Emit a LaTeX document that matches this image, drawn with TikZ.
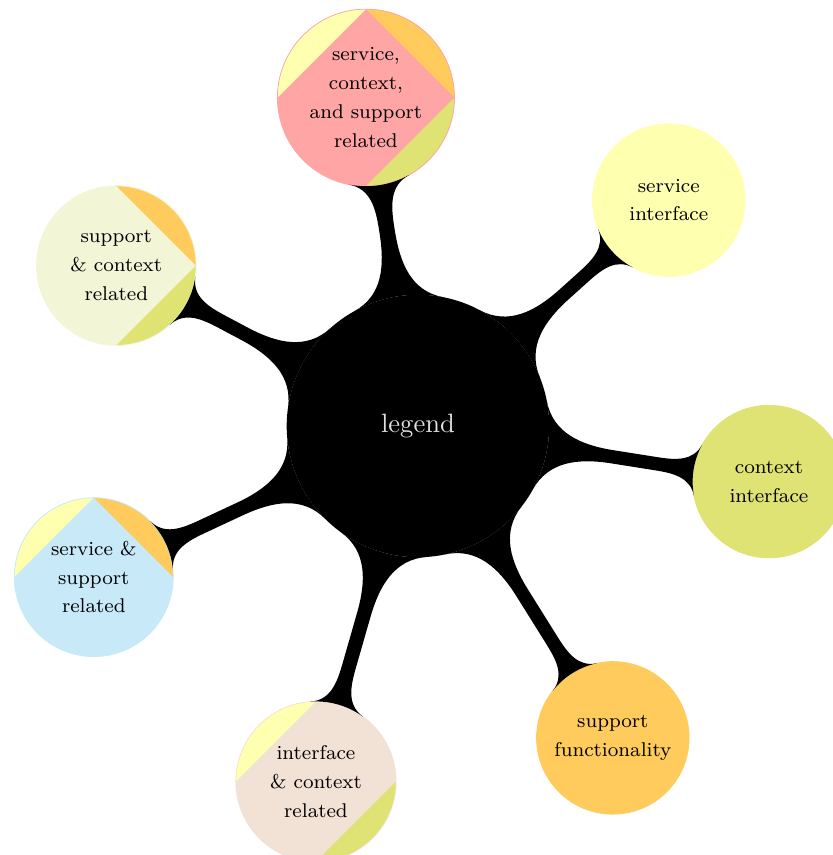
\documentclass[tikz,border=0pt]{standalone}
\usetikzlibrary{mindmap}
\definecolor{cserv}{RGB}{255,255,176}
\definecolor{cctx}{RGB}{222,227,115}
\definecolor{csupp}{RGB}{254,203,92}
\definecolor{cscs}{RGB}{255,165,165}
\definecolor{csc}{RGB}{242,245,214}
\definecolor{css}{RGB}{199,233,248}
\definecolor{cic}{RGB}{242,225,213}
\newcommand\segNW[1]{\fill[#1] (path picture bounding box.north) -- (path picture bounding box.west) -- (path picture bounding box.north west) -- cycle;}
\newcommand\segNE[1]{\fill[#1] (path picture bounding box.north) -- (path picture bounding box.east) -- (path picture bounding box.north east) -- cycle;}
\newcommand\segSE[1]{\fill[#1] (path picture bounding box.south) -- (path picture bounding box.east) -- (path picture bounding box.south east) -- cycle;}
\tikzset{
  mmleaf/.style={concept, circle, inner sep=0pt, text width=, align=center, text=black,
    font=\fontsize{8.1}{11.7}\selectfont, minimum size=2.18cm, fill=#1, draw=#1, line width=0.3pt},
  mmhub/.style={concept, circle, inner sep=0pt, text width=, align=center, text=black!12,
    font=\fontsize{10.8}{13}\selectfont, minimum size=3.75cm, fill=black, draw=none}
}
\begin{document}
\begin{tikzpicture}[mindmap, concept color=black]
\useasboundingbox (-5.971,-6.129) rectangle (5.929,6.086);
\node[mmhub] (root) {legend}
  child[grow=42.48, level distance=4.823cm] {node[mmleaf=cserv] (si) {service\\interface}}
  child[grow=-9.06, level distance=5.077cm] {node[mmleaf=cctx] (ci) {context\\interface}}
  child[grow=-58.63, level distance=5.254cm] {node[mmleaf=csupp] (sf) {support\\functionality}}
  child[grow=-106.89, level distance=5.285cm] {node[mmleaf=cic, minimum size=2.29cm,
      path picture={\segNW{cserv}\segSE{cctx}}] (icr) {interface\\\& context\\related}}
  child[grow=-155.9, level distance=5.11cm] {node[mmleaf=css, minimum size=2.27cm,
      path picture={\segNW{cserv}\segNE{csupp}}] (ssr) {service \&\\support\\related}}
  child[grow=152.65, level distance=4.881cm] {node[mmleaf=csc, minimum size=2.28cm,
      path picture={\segNE{csupp}\segSE{cctx}}] (scr) {support\\\& context\\related}}
  child[grow=99.35, level distance=4.749cm] {node[mmleaf=cscs, minimum size=2.53cm,
      path picture={\segNW{cserv}\segNE{csupp}\segSE{cctx}}] (all) {service,\\context,\\and support\\related}};
\end{tikzpicture}
\end{document}
